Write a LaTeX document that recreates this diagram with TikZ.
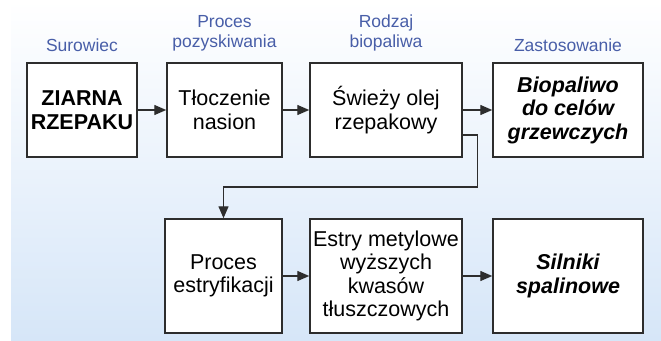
\documentclass[tikz,border=0pt]{standalone}
\usepackage{fontspec}
\setmainfont{Liberation Sans}
\usetikzlibrary{arrows.meta}
\definecolor{niebieski}{RGB}{72,94,168}
\definecolor{tlo}{RGB}{214,230,248}
\definecolor{ramka}{RGB}{45,45,45}

\begin{document}
\begin{tikzpicture}[x=1pt,y=-1pt]
        \tikzstyle{every node}=[font=\fontsize{21.5}{23.5}\selectfont, align=center]
        \tikzstyle{blok}=[draw=ramka, line width=1.5pt, fill=white, inner sep=2pt, minimum height=94pt]
        \tikzstyle{dolny}=[minimum height=114pt]
        \tikzstyle{wynik}=[font=\fontsize{21.5}{23.5}\selectfont\bfseries\itshape]
        \tikzstyle{naglowek}=[text=niebieski, font=\fontsize{17.5}{20}\selectfont, anchor=base]
        \tikzstyle{strzalka}=[line width=1.4pt, draw=ramka, -{Triangle[length=12pt,width=10pt]}]
        \useasboundingbox (0,0) rectangle (661,340);
        \shade[top color=white, bottom color=tlo] (11,0) rectangle (661,340);
        % naglowki kolumn
        \node[naglowek] (surowiec) at (82,51) {Surowiec};
        \node[naglowek] (proces) at (224.5,47) {Proces\\pozyskiwania};
        \node[naglowek] (rodzaj) at (386,47) {Rodzaj\\biopaliwa};
        \node[naglowek] (zastosowanie) at (568,51) {Zastosowanie};
        % gorny rzad
        \node[blok, minimum width=110pt, font=\fontsize{21.5}{23.5}\selectfont\bfseries] (ziarna) at (82,110) {ZIARNA\\RZEPAKU};
        \node[blok, minimum width=115pt] (tloczenie) at (224.5,110) {Tłoczenie\\nasion};
        \node[blok, minimum width=152pt] (olej) at (386,110) {Świeży olej\\rzepakowy};
        \node[blok, wynik, minimum width=150pt] (biopaliwo) at (568,110) {Biopaliwo\\do celów\\grzewczych};
        % dolny rzad
        \node[blok, dolny, minimum width=117pt] (estryfikacja) at (223.5,276) {Proces\\estryfikacji};
        \node[blok, dolny, minimum width=152pt] (estry) at (386,276) {Estry metylowe\\wyższych\\kwasów\\tłuszczowych};
        \node[blok, dolny, wynik, minimum width=150pt] (silniki) at (568,276) {Silniki\\spalinowe};
        \coordinate (zakret) at (0,187);
        \draw[strzalka] (ziarna) -- (tloczenie);
        \draw[strzalka] (tloczenie) -- (olej);
        \draw[strzalka] (olej) -- (biopaliwo);
        \draw[strzalka] ([yshift=-25pt]olej.east) -- ++(15,0) |- (estryfikacja.north |- zakret) -- (estryfikacja.north);
        \draw[strzalka] (estryfikacja) -- (estry);
        \draw[strzalka] (estry) -- (silniki);
    \end{tikzpicture}
\end{document}
